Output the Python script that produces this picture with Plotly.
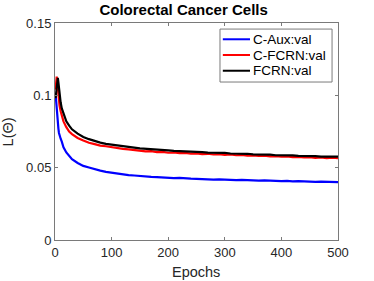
import plotly.graph_objects as go

epochs = [1, 2, 3, 4, 5, 6, 7, 8, 10, 12, 15, 20, 25,
          30, 40, 50, 60, 70, 80, 90, 100, 110, 120, 130, 140, 150, 160, 170, 180, 190, 200,
          210, 220, 230, 240, 250, 260, 270, 280, 290, 300, 310, 320, 330, 340, 350, 360,
          370, 380, 390, 400, 410, 420, 430, 440, 450, 460, 470, 480, 490, 500]

c_aux = [0.101, 0.095, 0.089, 0.084, 0.080, 0.077, 0.074, 0.072, 0.070, 0.068, 0.064, 0.0605, 0.058,
         0.0558, 0.0532, 0.0512, 0.0501, 0.0488, 0.0480, 0.0471, 0.0465, 0.0457, 0.0454, 0.0449,
         0.0446, 0.0441, 0.0440, 0.0436, 0.0435, 0.0431, 0.0432, 0.0428, 0.0429, 0.0425, 0.0424,
         0.0423, 0.0420, 0.0421, 0.0418, 0.0419, 0.0416, 0.0417, 0.0414, 0.0415, 0.0412, 0.0413,
         0.0410, 0.0412, 0.0409, 0.0410, 0.0407, 0.0409, 0.0405, 0.0407, 0.0404, 0.0406, 0.0402,
         0.0404, 0.0401, 0.0403, 0.0400]

c_fcrn = [0.104, 0.110, 0.113, 0.110, 0.105, 0.100, 0.096, 0.093, 0.089, 0.086, 0.082, 0.078, 0.075,
          0.0732, 0.0705, 0.0688, 0.0672, 0.0663, 0.0652, 0.0648, 0.0641, 0.0637, 0.0630, 0.0627,
          0.0621, 0.0619, 0.0612, 0.0614, 0.0607, 0.0609, 0.0603, 0.0605, 0.0600, 0.0602, 0.0597,
          0.0599, 0.0594, 0.0596, 0.0591, 0.0593, 0.0589, 0.0591, 0.0586, 0.0588, 0.0583, 0.0585,
          0.0581, 0.0583, 0.0578, 0.0580, 0.0576, 0.0578, 0.0573, 0.0575, 0.0571, 0.0573, 0.0568,
          0.0571, 0.0566, 0.0569, 0.0565]

fcrn = [0.098, 0.101, 0.106, 0.110, 0.112, 0.109, 0.104, 0.100, 0.095, 0.091, 0.087, 0.082, 0.079,
        0.0765, 0.0735, 0.0712, 0.0697, 0.0683, 0.0673, 0.0665, 0.0659, 0.0652, 0.0649, 0.0642,
        0.0639, 0.0634, 0.0632, 0.0627, 0.0626, 0.0621, 0.0620, 0.0616, 0.0615, 0.0611, 0.0612,
        0.0607, 0.0608, 0.0604, 0.0605, 0.0601, 0.0602, 0.0598, 0.0599, 0.0595, 0.0596, 0.0592,
        0.0593, 0.0589, 0.0590, 0.0586, 0.0587, 0.0584, 0.0585, 0.0581, 0.0582, 0.0579, 0.0580,
        0.0577, 0.0578, 0.0575, 0.0576]

series_names = ["C-Aux:val", "C-FCRN:val", "FCRN:val"]
series_values = [c_aux, c_fcrn, fcrn]
series_colors = ["#0000ff", "#ff0000", "#000000"]

x_ticks = [0, 100, 200, 300, 400, 500]
y_ticks = [0, 0.05, 0.1, 0.15]
y_tick_labels = ["0", "0.05", "0.1", "0.15"]

fig = go.Figure()
for name, vals, color in zip(series_names, series_values, series_colors):
    fig.add_trace(go.Scatter(x=epochs, y=vals, mode="lines", name=name, showlegend=False,
                             line=dict(color=color, width=2.2)))

frame = "#7a7a7a"
axis_common = dict(showgrid=False, zeroline=False, showline=True, linecolor=frame,
                   linewidth=1, mirror="ticks", ticks="inside", ticklen=3, tickcolor=frame,
                   tickfont=dict(size=13, color="#262626"), automargin=False)

# legend drawn as box + sample lines + text (paper coordinates)
shapes = [dict(type="rect", xref="paper", yref="paper", x0=0.583, x1=0.979, y0=0.728, y1=0.972,
               line=dict(color=frame, width=1), fillcolor="white", layer="above")]
annotations = []
legend_rows = [0.925, 0.8525, 0.780]
for row_y, name, color in zip(legend_rows, series_names, series_colors):
    shapes.append(dict(type="line", xref="paper", yref="paper", x0=0.593, x1=0.689,
                       y0=row_y, y1=row_y, line=dict(color=color, width=2), layer="above"))
    annotations.append(dict(xref="paper", yref="paper", x=0.693, y=row_y, text=name,
                            showarrow=False, xanchor="left", yanchor="middle",
                            font=dict(size=13.5, color="black")))

# axis titles
annotations.append(dict(xref="paper", yref="paper", x=0.498, y=-0.147, text="Epochs",
                        showarrow=False, xanchor="center", yanchor="middle",
                        font=dict(size=14.5, color="#262626")))
annotations.append(dict(xref="paper", yref="paper", x=-0.168, y=0.498, text="L(Θ)",
                        showarrow=False, xanchor="center", yanchor="middle", textangle=-90,
                        font=dict(size=14.5, color="#262626")))

fig.update_layout(
    width=374, height=281,
    margin=dict(l=55, r=36, t=23, b=41, autoexpand=False),
    paper_bgcolor="white", plot_bgcolor="white",
    font=dict(family="Liberation Sans, Arial, sans-serif", color="#262626", size=13),
    title=dict(text="<b>Colorectal Cancer Cells</b>", x=0.491, xanchor="center", y=0.964,
               yanchor="middle", font=dict(size=15, color="black")),
    xaxis=dict(range=[0, 500], tickvals=x_ticks, **axis_common),
    yaxis=dict(range=[0, 0.15], tickvals=y_ticks, ticktext=y_tick_labels, **axis_common),
    shapes=shapes,
    annotations=annotations,
    showlegend=False,
)

fig.write_html("out.html", config={"displayModeBar": False},
               post_script="document.body.style.margin='0';")
